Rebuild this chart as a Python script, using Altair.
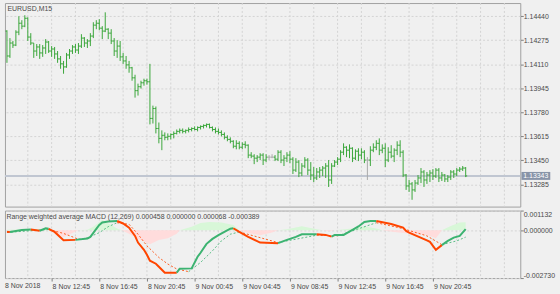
import altair as alt
import pandas as pd

# ---------------- data ----------------
symbol_title = "EURUSD,M15"
ind_name = "Range weighted average MACD"
ind_params = (12, 269)
ind_buffers = [0.000458, 0.000000, 0.000068, -0.000389]

time_labels = ["8 Nov 2018", "8 Nov 12:45", "8 Nov 16:45", "8 Nov 20:45", "9 Nov 00:45",
               "9 Nov 04:45", "9 Nov 08:45", "9 Nov 12:45", "9 Nov 16:45", "9 Nov 20:45"]
label_bars = [0, 16, 32, 48, 64, 80, 96, 112, 128, 144]
grid_bars = [8, 16, 24, 32, 40, 48, 56, 64, 72, 80, 88, 96, 104, 112, 120, 128, 136, 144, 152, 160, 168]
price_ticks = [1.13285, 1.13450, 1.13615, 1.13780, 1.13945, 1.14110, 1.14275, 1.14440]
macd_ticks = [0.001132, 0.0, -0.00273]
last_price = 1.13343

opens = [1.14338,1.14167,1.14256,1.14242,1.14331,1.14392,1.14372,1.14426,1.14297,1.14256,
 1.14201,1.14229,1.14188,1.14222,1.14263,1.14201,1.14215,1.14181,1.14147,1.14113,
 1.14092,1.14174,1.14201,1.14229,1.14208,1.14235,1.14290,1.14256,1.14270,1.14304,
 1.14379,1.14392,1.14358,1.14338,1.14351,1.14324,1.14270,1.14201,1.14235,1.14161,
 1.14133,1.14106,1.14086,1.14017,1.13929,1.13956,1.13983,1.13997,1.13990,1.13738,
 1.13806,1.13669,1.13601,1.13622,1.13608,1.13615,1.13628,1.13635,1.13649,1.13656,
 1.13649,1.13656,1.13662,1.13669,1.13662,1.13676,1.13683,1.13690,1.13697,1.13676,
 1.13662,1.13649,1.13642,1.13628,1.13608,1.13594,1.13581,1.13547,1.13567,1.13540,
 1.13560,1.13554,1.13486,1.13479,1.13465,1.13472,1.13486,1.13452,1.13472,1.13472,
 1.13472,1.13458,1.13506,1.13452,1.13465,1.13486,1.13458,1.13383,1.13438,1.13363,
 1.13411,1.13452,1.13383,1.13349,1.13329,1.13370,1.13383,1.13397,1.13411,1.13315,
 1.13411,1.13438,1.13458,1.13506,1.13540,1.13520,1.13533,1.13465,1.13513,1.13486,
 1.13506,1.13452,1.13452,1.13520,1.13540,1.13567,1.13520,1.13533,1.13452,1.13506,
 1.13479,1.13520,1.13554,1.13506,1.13349,1.13274,1.13288,1.13247,1.13294,1.13329,
 1.13370,1.13315,1.13349,1.13363,1.13342,1.13383,1.13329,1.13349,1.13322,1.13335,
 1.13370,1.13356,1.13383,1.13390,1.13397]
highs = [1.14344,1.14290,1.14270,1.14344,1.14440,1.14413,1.14447,1.14433,1.14324,1.14256,
 1.14249,1.14249,1.14242,1.14283,1.14270,1.14235,1.14229,1.14201,1.14167,1.14133,
 1.14188,1.14215,1.14242,1.14249,1.14256,1.14317,1.14297,1.14283,1.14324,1.14399,
 1.14413,1.14420,1.14372,1.14467,1.14358,1.14351,1.14290,1.14276,1.14270,1.14188,
 1.14167,1.14133,1.14092,1.14038,1.13977,1.13997,1.14011,1.14011,1.14113,1.13826,
 1.13820,1.13710,1.13656,1.13642,1.13635,1.13635,1.13649,1.13662,1.13669,1.13669,
 1.13662,1.13676,1.13676,1.13683,1.13683,1.13690,1.13697,1.13703,1.13703,1.13683,
 1.13676,1.13669,1.13656,1.13642,1.13622,1.13608,1.13588,1.13588,1.13581,1.13574,
 1.13581,1.13560,1.13506,1.13492,1.13486,1.13499,1.13499,1.13492,1.13486,1.13492,
 1.13486,1.13520,1.13520,1.13486,1.13506,1.13513,1.13472,1.13465,1.13452,1.13431,
 1.13472,1.13465,1.13438,1.13404,1.13397,1.13404,1.13411,1.13431,1.13452,1.13431,
 1.13452,1.13472,1.13520,1.13567,1.13547,1.13560,1.13540,1.13526,1.13533,1.13533,
 1.13520,1.13472,1.13547,1.13567,1.13588,1.13601,1.13560,1.13567,1.13540,1.13554,
 1.13533,1.13581,1.13588,1.13520,1.13356,1.13315,1.13301,1.13315,1.13349,1.13397,
 1.13383,1.13370,1.13383,1.13390,1.13397,1.13397,1.13370,1.13356,1.13349,1.13383,
 1.13383,1.13397,1.13404,1.13411,1.13404]
lows = [1.14120,1.14154,1.14222,1.14235,1.14310,1.14351,1.14365,1.14270,1.14242,1.14154,
 1.14167,1.14147,1.14161,1.14181,1.14188,1.14161,1.14147,1.14120,1.14079,1.14045,
 1.14086,1.14147,1.14181,1.14188,1.14181,1.14222,1.14229,1.14222,1.14235,1.14290,
 1.14351,1.14344,1.14283,1.14331,1.14283,1.14249,1.14167,1.14154,1.14133,1.14113,
 1.14079,1.14052,1.13997,1.13881,1.13895,1.13943,1.13963,1.13970,1.13697,1.13703,
 1.13635,1.13567,1.13520,1.13588,1.13588,1.13594,1.13601,1.13628,1.13635,1.13635,
 1.13635,1.13642,1.13649,1.13656,1.13649,1.13662,1.13669,1.13676,1.13669,1.13649,
 1.13635,1.13628,1.13615,1.13594,1.13581,1.13567,1.13533,1.13526,1.13526,1.13526,
 1.13533,1.13465,1.13465,1.13424,1.13438,1.13452,1.13418,1.13438,1.13452,1.13465,
 1.13445,1.13445,1.13431,1.13411,1.13438,1.13431,1.13356,1.13370,1.13335,1.13342,
 1.13397,1.13349,1.13315,1.13301,1.13315,1.13329,1.13342,1.13329,1.13267,1.13288,
 1.13404,1.13418,1.13438,1.13486,1.13472,1.13465,1.13438,1.13452,1.13445,1.13458,
 1.13431,1.13315,1.13411,1.13506,1.13520,1.13486,1.13499,1.13404,1.13438,1.13465,
 1.13438,1.13486,1.13472,1.13335,1.13247,1.13233,1.13179,1.13233,1.13281,1.13294,
 1.13267,1.13288,1.13301,1.13315,1.13329,1.13301,1.13308,1.13301,1.13301,1.13315,
 1.13329,1.13342,1.13370,1.13377,1.13335]
closes = [1.14167,1.14256,1.14242,1.14331,1.14392,1.14372,1.14426,1.14297,1.14256,1.14201,
 1.14229,1.14188,1.14222,1.14263,1.14201,1.14215,1.14181,1.14147,1.14113,1.14092,
 1.14174,1.14201,1.14229,1.14208,1.14235,1.14290,1.14256,1.14270,1.14304,1.14379,
 1.14392,1.14358,1.14338,1.14351,1.14324,1.14270,1.14201,1.14235,1.14161,1.14133,
 1.14106,1.14086,1.14017,1.13929,1.13956,1.13983,1.13997,1.13990,1.13738,1.13806,
 1.13669,1.13601,1.13622,1.13608,1.13615,1.13628,1.13635,1.13649,1.13656,1.13649,
 1.13656,1.13662,1.13669,1.13662,1.13676,1.13683,1.13690,1.13697,1.13676,1.13662,
 1.13649,1.13642,1.13628,1.13608,1.13594,1.13581,1.13547,1.13567,1.13540,1.13560,
 1.13554,1.13486,1.13479,1.13465,1.13472,1.13486,1.13452,1.13472,1.13472,1.13472,
 1.13458,1.13506,1.13452,1.13465,1.13486,1.13458,1.13383,1.13438,1.13363,1.13411,
 1.13452,1.13383,1.13349,1.13329,1.13370,1.13383,1.13397,1.13411,1.13315,1.13411,
 1.13438,1.13458,1.13506,1.13540,1.13520,1.13533,1.13465,1.13513,1.13486,1.13506,
 1.13452,1.13452,1.13520,1.13540,1.13567,1.13520,1.13533,1.13452,1.13506,1.13479,
 1.13520,1.13554,1.13506,1.13349,1.13274,1.13288,1.13247,1.13294,1.13329,1.13370,
 1.13315,1.13349,1.13363,1.13342,1.13383,1.13329,1.13349,1.13322,1.13335,1.13370,
 1.13356,1.13383,1.13390,1.13397,1.13343]

macd_i = [1,2,6,9,12,14,15,17,20,24,28,29,30,31,32,33,35,38,40,42,44,45,47,48,49,51,52,54,58,59,
          63,65,66,68,70,72,74,76,77,79,82,86,92,95,98,100,105,108,110,111,114,117,119,121,123,125,
          130,134,135,136,142,143,145,147,149,151,153,155]
macd_v = [-0.000091,-0.000091,0.000023,0.000051,-0.000023,0.000119,0.000091,-0.000091,-0.000562,-0.000545,
          -0.000471,-0.000375,-0.000148,0.000080,0.000307,0.000449,0.000506,0.000534,0.000392,0.000153,
          -0.000318,-0.000699,-0.001113,-0.001397,-0.001738,-0.001908,-0.002079,-0.002419,-0.002419,-0.002192,
          -0.002175,-0.001511,-0.001284,-0.000772,-0.000488,-0.000278,-0.000091,0.000097,0.000119,-0.000091,
          -0.000375,-0.000699,-0.000733,-0.000545,-0.000375,-0.000222,-0.000222,-0.000261,-0.000358,-0.000261,
          -0.000261,0.000023,0.000222,0.000477,0.000534,0.000534,0.000364,0.000153,-0.000034,-0.000131,
          -0.000574,-0.000659,-0.001113,-0.000846,-0.000602,-0.000415,-0.000318,0.000068]
macd_dir = ("d u u d u u d d d u "
            "u u u u u u u d d d "
            "d d d d d d d d u u "
            "u u u u u u u u d d "
            "d d u u u u d d u u "
            "u u u u u d d d d d "
            "d d d u u u u -").split()

sig_i = [1,15,20,25,28,32,35,38,42,45,48,52,55,58,62,66,70,73,76,79,92,105,112,125,134,142,147,152,155]
sig_v = [-0.000119,0.000051,-0.000176,-0.000506,-0.000432,-0.000131,0.000210,0.000437,0.000346,-0.000222,
         -0.000886,-0.001551,-0.001926,-0.002210,-0.002363,-0.001835,-0.001170,-0.000602,-0.000222,-0.000091,
         -0.000699,-0.000278,-0.000318,0.000437,0.000097,-0.000318,-0.000818,-0.000602,-0.000389]
sig_dir = ("u d d u u u u d d d "
           "d d d d u u u u u d "
           "u d u d d d u u -").split()

hist_i = [1,14,16,20,23,25,28,30,33,35,38,39.5,42,45,49,52,55,58,59,63,66,69,73,77,79,82,86,90,92,95,
          100,105,107,109,111,117,121,125,127,131,136,142,145,147,150,153,155]
hist_v = [0.00003,0.00008,0.0,-0.00039,-0.00015,0.0,0.00003,0.0002,0.0006,0.0004,
          0.0001,0.0,-0.0002,-0.00048,-0.0008,-0.00055,-0.00045,-0.0002,0.0,0.0002,
          0.00042,0.00048,0.00045,0.0003,0.0,-0.00015,-0.00028,-0.00012,0.0,0.00006,
          0.00023,0.00006,0.0,-0.00005,0.0,0.0001,0.00023,0.0001,0.0,-0.0001,
          -0.00018,-0.00027,-0.00045,0.0,0.00025,0.00045,0.000458]

# ---------------- style ----------------
FONT = "Liberation Sans"
TXT = "#4a4a4a"
GRID = "#d4d4d4"
BORDER = "#a0a0a0"
BG = "#f0f0f0"
BAR = "#3aa63a"
DOJI = "#a9a9a9"
UP = "#3cb371"
DN = "#ff4500"
POSF = "#d8f7d8"
NEGF = "#ffdcdc"
PLINE = "#c0c6d1"
PBOX = "#8894a8"

X0 = 1 / 3
W = 519
XSCALE = alt.Scale(domain=[X0, X0 + W / 3], nice=False, zero=False)
PSCALE = alt.Scale(domain=[1.131323, 1.145308], nice=False, zero=False)
MSCALE = alt.Scale(domain=[-0.00273, 0.001132], nice=False, zero=False)

# ---------------- tables ----------------
bars = pd.DataFrame({"i": list(range(1, len(opens) + 1)), "o": opens, "h": highs, "l": lows, "c": closes})
bars["col"] = [DOJI if o == c else BAR for o, c in zip(opens, closes)]


def seg_rows(xs, vs, segcol):
    rows = []
    run = 0
    for k in range(len(xs) - 1):
        if k > 0 and segcol[k] != segcol[k - 1]:
            run += 1
        rows.append({"i": xs[k], "v": vs[k], "c": segcol[k], "run": run, "z": 0.0})
        rows.append({"i": xs[k + 1], "v": vs[k + 1], "c": segcol[k], "run": run, "z": 0.0})
    return pd.DataFrame(rows)


dmap = {"u": UP, "d": DN, "-": UP}
macd_df = seg_rows(macd_i, macd_v, [dmap[d] for d in macd_dir])
sig_df = seg_rows(sig_i, sig_v, [dmap[d] for d in sig_dir])
hcol = [POSF if hist_v[k] + hist_v[k + 1] >= 0 else NEGF for k in range(len(hist_v) - 1)] + [POSF]
hist_df = seg_rows(hist_i, hist_v, hcol)

grid_df = pd.DataFrame({"g": grid_bars})
price_df = pd.DataFrame({"p": [last_price]})

# ---------------- axes ----------------
price_axis = alt.Axis(orient="right", values=price_ticks, format=".5f", tickSize=3, labelPadding=0,
                      grid=True, gridDash=[2, 2], gridColor=GRID, domain=False, title=None,
                      labelOverlap=False, labelBound=False)
lab_expr = "[" + ",".join("'" + s + "'" for s in time_labels) + "][datum.value/16]"
x_axis = alt.Axis(values=label_bars[1:], labelExpr=lab_expr, labelAlign="left", labelOffset=0.5,
                  tickSize=3, labelPadding=1, grid=False, domain=False, title=None,
                  labelOverlap=False, labelFlush=False, labelBound=False)
m_axis = alt.Axis(orient="right", values=macd_ticks,
                  labelExpr="replace(format(datum.value, '.6f'), '\u2212', '-')",
                  labelFlush=True, tickSize=3, labelPadding=0, grid=True, gridDash=[2, 2], gridColor=GRID,
                  domain=False, title=None, labelOverlap=False, labelBound=False)


def XT(f):
    return alt.X(f, scale=XSCALE, axis=None)


def YT(f):
    return alt.Y(f, scale=PSCALE, axis=price_axis)


def XB(f):
    return alt.X(f, scale=XSCALE, axis=x_axis)


def YB(f):
    return alt.Y(f, scale=MSCALE, axis=m_axis)


# ---------------- top panel ----------------
vgrid_top = alt.Chart(grid_df).mark_rule(color=GRID, strokeDash=[2, 2], strokeWidth=1).encode(x=XT("g:Q"))
pline = alt.Chart(price_df).mark_rule(color=PLINE, strokeWidth=2).encode(y=YT("p:Q"))
stems = alt.Chart(bars).mark_rule(strokeWidth=1).encode(
    x=XT("i:Q"), y=YT("l:Q"), y2="h:Q", color=alt.Color("col:N", scale=None))
oticks = alt.Chart(bars).transform_calculate(xl="datum.i - 0.5").mark_rule(strokeWidth=1).encode(
    x=XT("xl:Q"), x2="i:Q", y=YT("o:Q"), color=alt.Color("col:N", scale=None))
cticks = alt.Chart(bars).transform_calculate(xr="datum.i + 0.5").mark_rule(strokeWidth=1).encode(
    x=XT("i:Q"), x2="xr:Q", y=YT("c:Q"), color=alt.Color("col:N", scale=None))
top_title = alt.Chart(pd.DataFrame({"t": [symbol_title]})).mark_text(
    align="left", baseline="middle", font=FONT, fontSize=7, color=TXT).encode(
    x=alt.value(2.5), y=alt.value(5.7), text="t:N")
pbox = alt.Chart(price_df).mark_tick(orient="horizontal", size=29, thickness=8, color=PBOX, opacity=1).encode(
    x=alt.value(534.7), y=YT("p:Q"))
ptext = alt.Chart(price_df).mark_text(align="left", baseline="middle", font=FONT, fontSize=7,
                                      color="white").encode(
    x=alt.value(522), y=YT("p:Q"), text=alt.Text("p:Q", format=".5f"))

top = alt.layer(vgrid_top, pline, stems, oticks, cticks, top_title, pbox, ptext).properties(
    width=W, height=205)

# ---------------- bottom panel ----------------
vgrid_bot = alt.Chart(grid_df).mark_rule(color=GRID, strokeDash=[2, 2], strokeWidth=1).encode(x=XB("g:Q"))
hist = alt.Chart(hist_df).mark_area(opacity=1).encode(
    x=XB("i:Q"), y=YB("v:Q"), y2="z:Q", color=alt.Color("c:N", scale=None), detail="run:N")
sig = alt.Chart(sig_df).mark_line(strokeWidth=1, strokeDash=[2, 2], opacity=0.85).encode(
    x=XB("i:Q"), y=YB("v:Q"), color=alt.Color("c:N", scale=None), detail="run:N")
macd = alt.Chart(macd_df).mark_line(strokeWidth=2).encode(
    x=XB("i:Q"), y=YB("v:Q"), color=alt.Color("c:N", scale=None), detail="run:N")
ind_title = f"{ind_name} ({ind_params[0]},{ind_params[1]}) " + " ".join(f"{v:.6f}" for v in ind_buffers)
bot_title = alt.Chart(pd.DataFrame({"t": [ind_title]})).mark_text(
    align="left", baseline="middle", font=FONT, fontSize=7, color=TXT).encode(
    x=alt.value(1.5), y=alt.value(6.4), text="t:N")
first_lab = alt.Chart(pd.DataFrame({"t": [time_labels[0]]})).mark_text(
    align="left", baseline="top", font=FONT, fontSize=7, color=TXT).encode(
    x=alt.value(0), y=alt.value(72), text="t:N")

bottom = alt.layer(vgrid_bot, hist, sig, macd, bot_title, first_lab).properties(width=W, height=68)

chart = alt.vconcat(top, bottom, spacing=2).resolve_scale(y="independent").properties(
    background=BG, padding={"left": 2, "top": 1, "right": 4, "bottom": 6}
).configure_view(stroke=BORDER, strokeWidth=1, fill=BG).configure_axis(
    labelFont=FONT, labelFontSize=7, labelColor=TXT, tickColor="#808080")

chart.save("out.html", embed_options={"renderer": "svg", "actions": False})
